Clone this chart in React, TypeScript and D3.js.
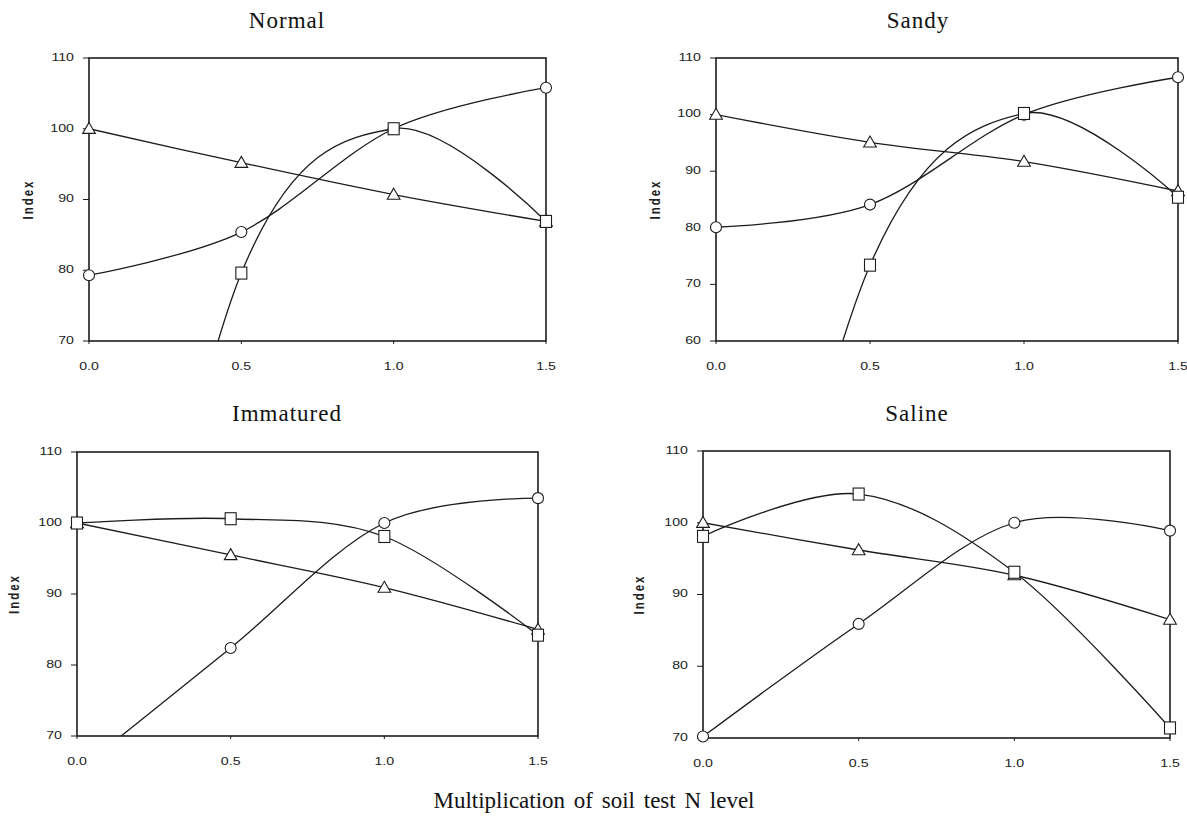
import React from "react";
import * as d3 from "d3";

// N level multipliers (x axis)
const xLevels = [0, 0.5, 1.0, 1.5];
const xTicks = [0, 0.5, 1.0, 1.5];

// Index values, one array per soil and marker
const normalTriangle = [100, 95.2, 90.7, 86.9];
const normalCircle = [79.3, 85.4, 100, 105.8];
const normalSquare = [-5, 79.6, 100, 86.9];

const sandyTriangle = [100, 95.1, 91.7, 86.5];
const sandyCircle = [80.1, 84.1, 100, 106.6];
const sandySquare = [-25, 73.4, 100.2, 85.4];

const immaturedTriangle = [100, 95.5, 90.9, 85.0];
const immaturedCircle = [65, 82.4, 100, 103.5];
const immaturedSquare = [100, 100.6, 98.1, 84.2];

const salineTriangle = [100, 96.2, 92.7, 86.5];
const salineCircle = [70.2, 85.9, 100, 98.9];
const salineSquare = [98.1, 104, 93.1, 71.4];

const ticksTo110From70 = [70, 80, 90, 100, 110];
const ticksTo110From60 = [60, 70, 80, 90, 100, 110];

const panels = [
  {
    name: "Normal",
    yTicks: ticksTo110From70,
    series: { triangle: normalTriangle, circle: normalCircle, square: normalSquare },
    box: { x0: 89, x1: 546, y0: 58, y1: 341 },
    titleX: 287,
    titleY: 28,
    indexX: 29,
  },
  {
    name: "Sandy",
    yTicks: ticksTo110From60,
    series: { triangle: sandyTriangle, circle: sandyCircle, square: sandySquare },
    box: { x0: 716, x1: 1178, y0: 58, y1: 341 },
    titleX: 918,
    titleY: 28,
    indexX: 656,
  },
  {
    name: "Immatured",
    yTicks: ticksTo110From70,
    series: { triangle: immaturedTriangle, circle: immaturedCircle, square: immaturedSquare },
    box: { x0: 77, x1: 538, y0: 452, y1: 736 },
    titleX: 287,
    titleY: 421,
    indexX: 15,
  },
  {
    name: "Saline",
    yTicks: ticksTo110From70,
    series: { triangle: salineTriangle, circle: salineCircle, square: salineSquare },
    box: { x0: 703, x1: 1170, y0: 451, y1: 738 },
    titleX: 917,
    titleY: 421,
    indexX: 640,
  },
];

const ink = "#1c1c1c";
const tickFont = "'Liberation Sans', Arial, sans-serif";
const serif = "'Liberation Serif', 'Times New Roman', serif";
const stretch = 1.35; // scanned labels look widened

function Marker({ kind, x, y }: { kind: string; x: number; y: number }) {
  if (kind === "circle")
    return <circle cx={x} cy={y} r={5.5} fill="#fff" stroke={ink} strokeWidth={1.1} />;
  if (kind === "square")
    return <rect x={x - 5.5} y={y - 6} width={11} height={12} fill="#fff" stroke={ink} strokeWidth={1.1} />;
  const p = d3.symbol(d3.symbolTriangle, 70)() as string;
  return <path d={p} transform={`translate(${x},${y + 1})`} fill="#fff" stroke={ink} strokeWidth={1.1} />;
}

function Panel({ p, idx }: { p: (typeof panels)[number]; idx: number }) {
  const { x0, x1, y0, y1 } = p.box;
  const x = d3.scaleLinear().domain([0, 1.5]).range([x0, x1]);
  const yMin = d3.min(p.yTicks) as number;
  const y = d3.scaleLinear().domain([yMin, 110]).range([y1, y0]);
  const line = d3
    .line<number>()
    .x((_d, i) => x(xLevels[i]))
    .y((d) => y(d))
    .curve(d3.curveCardinal.tension(0));
  const order: Array<["triangle" | "circle" | "square", number[]]> = [
    ["triangle", p.series.triangle],
    ["circle", p.series.circle],
    ["square", p.series.square],
  ];
  const clipId = `clip-${idx}`;
  return (
    <g>
      <defs>
        <clipPath id={clipId}>
          <rect x={x0} y={y0} width={x1 - x0} height={y1 - y0} />
        </clipPath>
      </defs>
      <text x={p.titleX} y={p.titleY} textAnchor="middle" fontFamily={serif} fontSize={23} letterSpacing={1} fill="#111">
        {p.name}
      </text>
      <rect x={x0} y={y0} width={x1 - x0} height={y1 - y0} fill="none" stroke={ink} strokeWidth={1.6} />
      {p.yTicks.map((t) => (
        <g key={t}>
          <line x1={x0 - 6} x2={x0} y1={y(t)} y2={y(t)} stroke={ink} strokeWidth={1} />
          <text
            transform={`translate(${x0 - 15},${y(t)}) scale(${stretch},1)`}
            textAnchor="end"
            dominantBaseline="middle"
            fontFamily={tickFont}
            fontSize={10.5}
            fill="#222"
          >
            {t}
          </text>
        </g>
      ))}
      {xTicks.map((t) => (
        <g key={t}>
          <line x1={x(t)} x2={x(t)} y1={y1} y2={y1 + 3} stroke={ink} strokeWidth={1} />
          <text
            transform={`translate(${x(t)},${y1 + 26}) scale(${stretch},1)`}
            textAnchor="middle"
            dominantBaseline="middle"
            fontFamily={tickFont}
            fontSize={10.5}
            fill="#222"
          >
            {d3.format(".1f")(t)}
          </text>
        </g>
      ))}
      <text
        transform={`translate(${p.indexX},${(y0 + y1) / 2}) scale(${stretch},1) rotate(-90)`}
        textAnchor="middle"
        dominantBaseline="middle"
        fontFamily={tickFont}
        fontSize={11.5}
        fontWeight="bold"
        letterSpacing={2}
        fill="#222"
      >
        Index
      </text>
      <g clipPath={`url(#${clipId})`}>
        {order.map(([k, vals]) => (
          <path key={k} d={line(vals) as string} fill="none" stroke={ink} strokeWidth={1.3} />
        ))}
      </g>
      {order.map(([k, vals]) =>
        vals.map((v, i) =>
          v >= yMin && v <= 110 ? <Marker key={`${k}-${i}`} kind={k} x={x(xLevels[i])} y={y(v)} /> : null
        )
      )}
    </g>
  );
}

export default function App() {
  return (
    <div style={{ position: "absolute", left: 0, top: 0, background: "#fff" }}>
      <svg width={1187} height={827} viewBox="0 0 1187 827" style={{ display: "block" }}>
        <rect width={1187} height={827} fill="#fff" />
        {panels.map((p, i) => (
          <Panel key={p.name} p={p} idx={i} />
        ))}
        <text x={594} y={808} textAnchor="middle" fontFamily={serif} fontSize={23} fill="#111" wordSpacing={3}>
          Multiplication of soil test N level
        </text>
      </svg>
    </div>
  );
}
